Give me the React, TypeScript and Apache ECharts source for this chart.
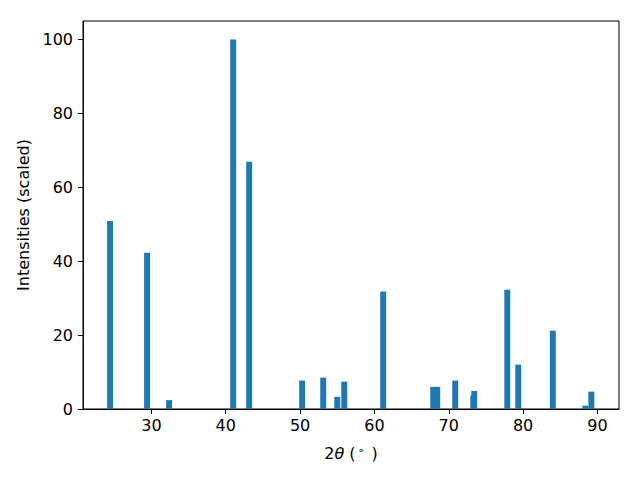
import React, { useEffect, useRef } from "react";
import * as echarts from "echarts";

const twoTheta = [24.44, 29.42, 32.38, 41.0, 43.15, 50.28, 53.11, 55.0, 55.94, 61.18, 67.91, 68.45, 70.87, 73.3, 73.43, 77.87, 79.35, 84.0, 88.37, 89.18];
const intensities = [50.9, 42.3, 2.4, 100, 66.9, 7.7, 8.5, 3.3, 7.4, 31.8, 6.0, 6.0, 7.7, 3.6, 4.9, 32.3, 12.0, 21.2, 0.9, 4.7];
const xTicks = [30, 40, 50, 60, 70, 80, 90];
const yTicks = [0, 20, 40, 60, 80, 100];
const barWidth = 0.8;

export default function App() {
  const ref = useRef<HTMLDivElement>(null);
  useEffect(() => {
    if (!ref.current) return;
    const chart = echarts.init(ref.current, undefined, { renderer: "svg" });
    const font = "DejaVu Sans";
    const fs = 16;
    chart.setOption({
      animation: false,
      backgroundColor: "#ffffff",
      grid: {
        left: 83,
        right: 21,
        top: 21,
        bottom: 71,
        show: true,
        borderColor: "#000000",
        borderWidth: 1,
        backgroundColor: "transparent",
      },
      xAxis: {
        type: "value",
        min: 20.8,
        max: 92.9,
        splitLine: { show: false },
        axisLine: { show: true, onZero: false, lineStyle: { color: "#000", width: 1 } },
        axisTick: { show: true, inside: false, length: 5, customValues: xTicks, lineStyle: { color: "#000", width: 1 } },
        axisLabel: { customValues: xTicks, color: "#000", fontSize: fs, fontFamily: font, margin: 8 },
        name: "{n|2}{i|θ}{n| (}{s|∘}{n| )}",
        nameLocation: "middle",
        nameGap: 36,
        nameTextStyle: {
          rich: {
            n: { fontSize: fs, fontFamily: font, color: "#000", verticalAlign: "bottom" },
            i: { fontSize: fs, fontFamily: font, fontStyle: "italic", color: "#000", verticalAlign: "bottom" },
            s: { fontSize: 11, fontFamily: font, color: "#000", verticalAlign: "top", padding: [0, 2, 0, 2] },
          },
        },
      },
      yAxis: {
        type: "value",
        min: 0,
        max: 105,
        splitLine: { show: false },
        axisLine: { show: true, lineStyle: { color: "#000", width: 1 } },
        axisTick: { show: true, inside: false, length: 5, customValues: yTicks, lineStyle: { color: "#000", width: 1 } },
        axisLabel: { customValues: yTicks, color: "#000", fontSize: fs, fontFamily: font, margin: 10 },
        name: "Intensities (scaled)",
        nameLocation: "middle",
        nameGap: 48,
        nameTextStyle: { fontSize: fs, fontFamily: font, color: "#000" },
      },
      series: [
        {
          type: "custom",
          data: twoTheta.map((x, i) => [x, intensities[i]]),
          renderItem: (params: any, api: any) => {
            const x = api.value(0);
            const y = api.value(1);
            const p0 = api.coord([x - barWidth / 2, y]);
            const p1 = api.coord([x + barWidth / 2, 0]);
            return {
              type: "rect",
              shape: { x: p0[0], y: p0[1], width: p1[0] - p0[0], height: p1[1] - p0[1] },
              style: { fill: "#1f77b4" },
            };
          },
          encode: { x: 0, y: 1 },
        },
      ],
    });
    return () => chart.dispose();
  }, []);
  return <div ref={ref} style={{ width: 640, height: 480, position: "absolute", left: 0, top: 0 }} />;
}
